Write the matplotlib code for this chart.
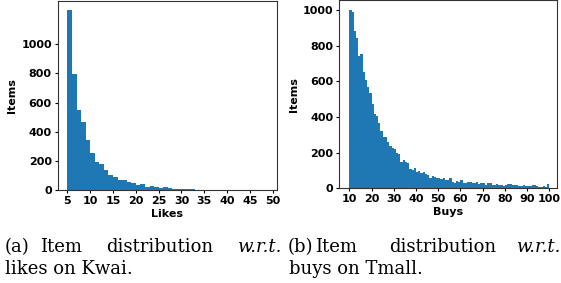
import matplotlib
matplotlib.use('Agg')
import matplotlib.pyplot as plt

# Kwai: items per number of likes (bins of width 1 from 5 to 49)
likes_bins = list(range(5, 50))
likes_counts = [1236, 796, 549, 467, 343, 254, 192, 178, 137, 103,
                89, 69, 69, 55, 48, 34, 41, 21, 27, 21,
                14, 18, 13, 8, 6, 5, 5, 4, 3, 2,
                2, 2, 2, 1, 1, 1, 1, 1, 1, 1,
                1, 1, 1, 1, 1]

# Tmall: items per number of buys (bins of width 1 from 10 to 99)
buys_bins = list(range(10, 100))
buys_counts = [1000, 990, 880, 845, 740, 755, 655, 605, 570, 535,
               475, 415, 405, 365, 320, 290, 290, 262, 240, 228,
               220, 200, 190, 150, 160, 147, 140, 108, 103, 113,
               93, 96, 85, 90, 80, 77, 60, 68, 64, 58,
               55, 50, 56, 48, 47, 57, 33, 30, 40, 35,
               45, 28, 30, 34, 33, 28, 28, 33, 22, 27,
               27, 20, 28, 28, 20, 20, 22, 18, 20, 15,
               20, 22, 22, 20, 18, 18, 15, 14, 17, 13,
               13, 12, 16, 17, 15, 10, 8, 12, 8, 22]

yticks = [0, 200, 400, 600, 800, 1000]
likes_xticks = list(range(5, 51, 5))
buys_xticks = list(range(10, 101, 10))

W, H = 561, 283
fig = plt.figure(figsize=(W / 100, H / 100), dpi=100)

blue = '#1f77b4'


def styleAxes(ax):
	ax.tick_params(length=2.2, width=0.8, pad=2.0)
	for lab in ax.get_xticklabels() + ax.get_yticklabels():
		lab.set_fontsize(8)
		lab.set_fontweight('bold')
	for s in ax.spines.values():
		s.set_linewidth(0.8)
		s.set_color('#333333')


# left panel
ax1 = fig.add_axes([57.7 / W, 1 - 190 / H, 219.3 / W, 189 / H])
ax1.bar(likes_bins, likes_counts, width=1.0, align='edge', color=blue)
ax1.set_xlim(2.87, 50.95)
ax1.set_ylim(0, 1297)
ax1.set_xticks(likes_xticks)
ax1.set_yticks(yticks)
styleAxes(ax1)
ax1.set_xlabel('Likes', fontsize=8, fontweight='bold', labelpad=2)
ax1.set_ylabel('Items', fontsize=8, fontweight='bold', labelpad=3)

# right panel
ax2 = fig.add_axes([339.3 / W, 1 - 188.3 / H, 218 / W, 188 / H])
ax2.bar(buys_bins, buys_counts, width=1.0, align='edge', color=blue)
ax2.set_xlim(5.5, 103.6)
ax2.set_ylim(0, 1055)
ax2.set_xticks(buys_xticks)
ax2.set_yticks(yticks)
styleAxes(ax2)
ax2.set_xlabel('Buys', fontsize=8, fontweight='bold', labelpad=2)
ax2.set_ylabel('Items', fontsize=8, fontweight='bold', labelpad=3)

# captions, word by word to mimic the justified latex text
cap = {'fontsize': 13, 'family': 'DejaVu Serif', 'va': 'baseline', 'ha': 'left'}
words = [
	('(a)', 5, 252, 'normal'), ('Item', 40, 252, 'normal'),
	('distribution', 106, 252, 'normal'), ('w.r.t.', 238, 252, 'italic'),
	('likes on Kwai.', 5, 274, 'normal'),
	('(b)', 288, 252, 'normal'), ('Item', 315, 252, 'normal'),
	('distribution', 389, 252, 'normal'), ('w.r.t.', 517, 252, 'italic'),
	('buys on Tmall.', 289, 274, 'normal'),
]
for w, x, y, st in words:
	fig.text(x / W, 1 - y / H, w, style=st, **cap)

fig.savefig('out.png', dpi=100)
